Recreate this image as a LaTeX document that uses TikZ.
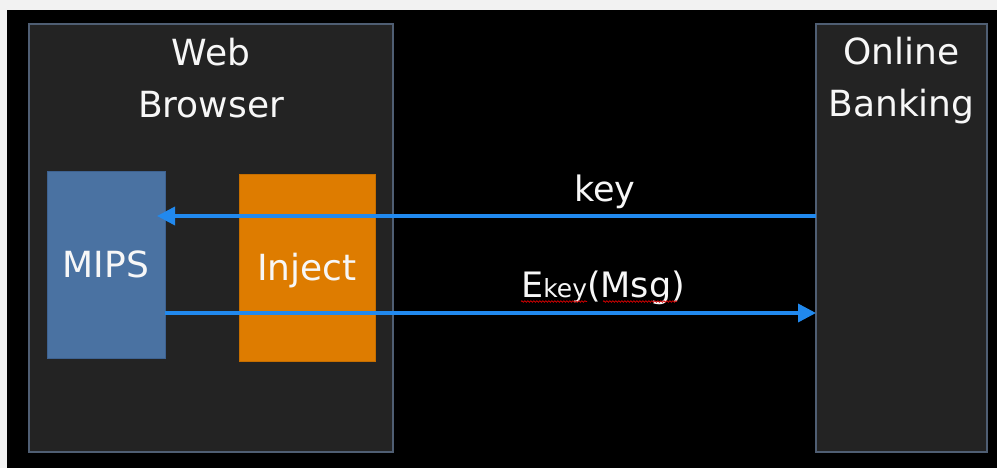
\documentclass[tikz,border=0pt]{standalone}
\usepackage{fontspec}
\setmainfont{DejaVu Sans}
\usetikzlibrary{arrows.meta,decorations.pathmorphing}
\definecolor{outerbg}{HTML}{F2F2F2}
\definecolor{panel}{HTML}{232323}
\definecolor{panelline}{HTML}{4F5E73}
\definecolor{mipsblue}{HTML}{4A72A2}
\definecolor{mipsline}{HTML}{3E6290}
\definecolor{injorange}{HTML}{DE7C00}
\definecolor{injline}{HTML}{C56E00}
\definecolor{arrowblue}{HTML}{2189EE}
\definecolor{txt}{HTML}{F7F7F7}
\tikzset{
  panelbox/.style={draw=panelline, line width=1.5pt, fill=panel, inner sep=0pt, outer sep=0pt},
  mipsbox/.style={draw=mipsline, line width=0.8pt, fill=mipsblue, inner sep=0pt, outer sep=0pt},
  injbox/.style={draw=injline, line width=0.8pt, fill=injorange, inner sep=0pt, outer sep=0pt},
  title/.style={text=txt, font=\fontsize{36}{40}\selectfont, inner sep=0pt, anchor=base},
  lbl/.style={text=txt, font=\fontsize{35}{40}\selectfont, inner sep=0pt},
  arr/.style={draw=arrowblue, line width=3.5pt, -{Triangle[length=18pt,width=18pt]}},
  wavy/.style={draw=red!85!black, line width=0.7pt, decorate, decoration={snake, segment length=3pt, amplitude=0.8pt}}
}
\begin{document}
\begin{tikzpicture}[x=1pt,y=-1pt]
\useasboundingbox (0,0) rectangle (997,468);
\fill[outerbg] (0,0) rectangle (997,468);
\fill[black] (7,10) rectangle (997,468);
% panels
\node[panelbox, minimum width=364pt, minimum height=428pt] (browser) at (211,238) {};
\node[panelbox, minimum width=171pt, minimum height=428pt] (bank) at (901.5,238) {};
\node[mipsbox, minimum width=118pt, minimum height=187pt] (mips) at (106,264.5) {};
\node[injbox, minimum width=136pt, minimum height=187pt] (inject) at (307,267.5) {};
% titles
\node[title] (webT) at (211,66) {Web};
\node[title] (browserT) at (211,118) {Browser};
\node[title] (onlineT) at (901.5,65) {Online};
\node[title] (bankingT) at (901.5,117) {Banking};
\node[title] (mipsT) at (106,277) {MIPS};
\node[title] (injectT) at (307,280) {Inject};
% arrows
\path (0,216) coordinate (ky) (0,313) coordinate (my);
\coordinate (keytip) at ([xshift=-8pt]mips.east |- ky);
\draw[arr] (bank.west |- ky) -- (keytip);
\draw[arr] (mips.east |- my) -- (bank.west |- my);
% labels
\node[lbl, anchor=base] (keyL) at (605,202) {key};
\node[lbl, anchor=base west] (emsgL) at (521,297) {E{\fontsize{25}{27}\selectfont key}(Msg)};
\draw[wavy] (521,301.5) -- (587,301.5);
\draw[wavy] (603,301.5) -- (677,301.5);
\end{tikzpicture}
\end{document}
